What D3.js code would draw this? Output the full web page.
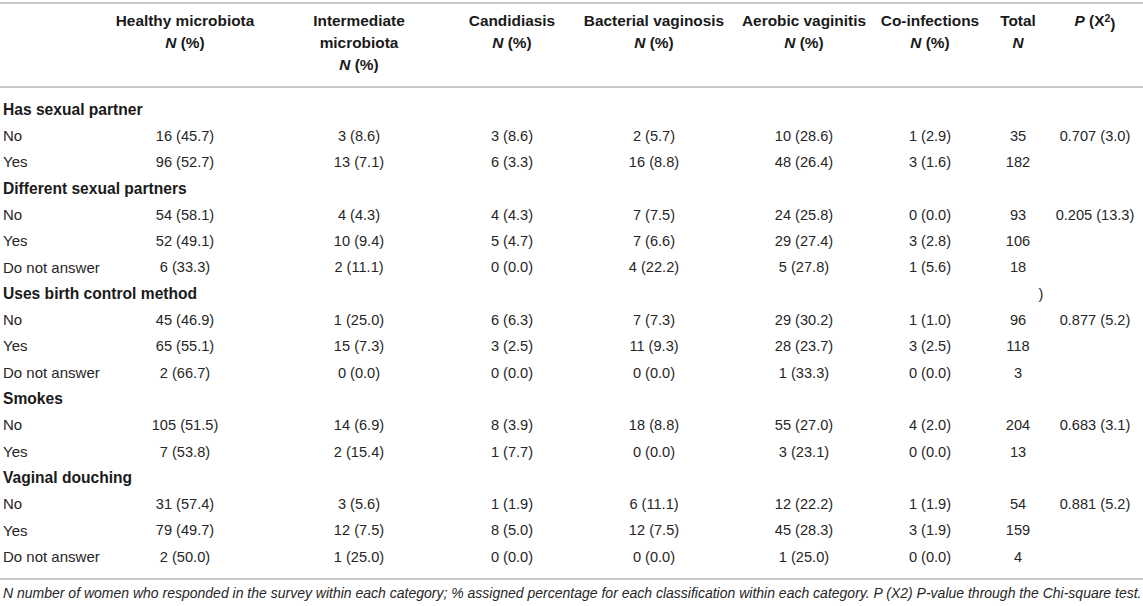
<!DOCTYPE html>
<html>
<head>
<meta charset="utf-8">
<script src="https://cdn.jsdelivr.net/npm/d3@7"></script>
<style>
  body { margin: 0; background: #fff; }
  text { font-family: "Liberation Sans", Arial, Helvetica, sans-serif; }
</style>
</head>
<body>
<div id="table"></div>
<script>
// Column headers (each entry = lines of the header cell)
const columns = ["healthy", "intermediate", "candidiasis", "bacterial", "aerobic", "coinf", "total", "p"];
const headerLines = [
    ["Healthy microbiota", "N (%)"],
    ["Intermediate", "microbiota", "N (%)"],
    ["Candidiasis", "N (%)"],
    ["Bacterial vaginosis", "N (%)"],
    ["Aerobic vaginitis", "N (%)"],
    ["Co-infections", "N (%)"],
    ["Total", "N"],
    ["P (X2)"]
];

// Variable groups and their answers
const groups = ["Has sexual partner", "Different sexual partners", "Uses birth control method", "Smokes", "Vaginal douching"];
const answers = [
    ["No", "Yes"],
    ["No", "Yes", "Do not answer"],
    ["No", "Yes", "Do not answer"],
    ["No", "Yes"],
    ["No", "Yes", "Do not answer"]
];

// Counts and percentages per classification, one entry per answer row (top to bottom)
const healthyN = [16, 96, 54, 52, 6, 45, 65, 2, 105, 7, 31, 79, 2];
const healthyPct = [45.7, 52.7, 58.1, 49.1, 33.3, 46.9, 55.1, 66.7, 51.5, 53.8, 57.4, 49.7, 50.0];
const intermediateN = [3, 13, 4, 10, 2, 1, 15, 0, 14, 2, 3, 12, 1];
const intermediatePct = [8.6, 7.1, 4.3, 9.4, 11.1, 25.0, 7.3, 0.0, 6.9, 15.4, 5.6, 7.5, 25.0];
const candidiasisN = [3, 6, 4, 5, 0, 6, 3, 0, 8, 1, 1, 8, 0];
const candidiasisPct = [8.6, 3.3, 4.3, 4.7, 0.0, 6.3, 2.5, 0.0, 3.9, 7.7, 1.9, 5.0, 0.0];
const bacterialN = [2, 16, 7, 7, 4, 7, 11, 0, 18, 0, 6, 12, 0];
const bacterialPct = [5.7, 8.8, 7.5, 6.6, 22.2, 7.3, 9.3, 0.0, 8.8, 0.0, 11.1, 7.5, 0.0];
const aerobicN = [10, 48, 24, 29, 5, 29, 28, 1, 55, 3, 12, 45, 1];
const aerobicPct = [28.6, 26.4, 25.8, 27.4, 27.8, 30.2, 23.7, 33.3, 27.0, 23.1, 22.2, 28.3, 25.0];
const coinfN = [1, 3, 0, 3, 1, 1, 3, 0, 4, 0, 1, 3, 0];
const coinfPct = [2.9, 1.6, 0.0, 2.8, 5.6, 1.0, 2.5, 0.0, 2.0, 0.0, 1.9, 1.9, 0.0];
const totalN = [35, 182, 93, 106, 18, 96, 118, 3, 204, 13, 54, 159, 4];

// Chi-square results per group: p-value and X2
const pValues = [0.707, 0.205, 0.877, 0.683, 0.881];
const chiSquare = [3.0, 13.3, 5.2, 3.1, 5.2];

const footnote = "N number of women who responded in the survey within each category; % assigned percentage for each classification within each category. P (X2) P-value through the Chi-square test.";

// ---- build the rows ----
const fmt = (n, p) => `${n} (${p.toFixed(1)})`;
const rows = [];
let k = 0;
groups.forEach((g, gi) => {
    rows.push({ type: "group", label: g, group: gi });
    answers[gi].forEach((a, ai) => {
        rows.push({
            type: "data",
            label: a,
            cells: {
                healthy: fmt(healthyN[k], healthyPct[k]),
                intermediate: fmt(intermediateN[k], intermediatePct[k]),
                candidiasis: fmt(candidiasisN[k], candidiasisPct[k]),
                bacterial: fmt(bacterialN[k], bacterialPct[k]),
                aerobic: fmt(aerobicN[k], aerobicPct[k]),
                coinf: fmt(coinfN[k], coinfPct[k]),
                total: String(totalN[k]),
                p: ai === 0 ? `${pValues[gi].toFixed(3)} (${chiSquare[gi].toFixed(1)})` : ""
            }
        });
        k++;
    });
});

const W = 1143, H = 606;
const svg = d3.select("#table").append("svg")
    .attr("width", W)
    .attr("height", H);

// column centres
const x = d3.scaleOrdinal()
    .domain(columns)
    .range([185, 359, 512, 654, 804, 930, 1018, 1095]);

// row centres
const y = d3.scaleLinear()
    .domain([0, rows.length - 1])
    .range([109.5, 556.6]);

const ink = "#262626";
const ruleColor = "#b4b4b4";
const rule = (yy) => svg.append("line")
    .attr("x1", 0).attr("x2", W)
    .attr("y1", yy).attr("y2", yy)
    .attr("stroke", ruleColor)
    .attr("stroke-width", 1.6);

rule(3);
rule(87);
rule(579);

// header cells
const head = svg.append("g").attr("class", "header");
columns.forEach((c, ci) => {
    headerLines[ci].forEach((line, li) => {
        const t = head.append("text")
            .attr("x", x(c))
            .attr("y", 21 + li * 22)
            .attr("dy", "0.35em")
            .attr("text-anchor", "middle")
            .style("font-size", "15.4px")
            .style("font-weight", "bold")
            .attr("fill", "#1a1a1a");
        if (line === "N (%)") {
            t.append("tspan").style("font-style", "italic").text("N");
            t.append("tspan").text(" (%)");
        } else if (line === "N") {
            t.append("tspan").style("font-style", "italic").text("N");
        } else if (line === "P (X2)") {
            t.append("tspan").style("font-style", "italic").text("P");
            t.append("tspan").text(" (X");
            t.append("tspan").attr("dy", "-0.45em").style("font-size", "10.5px").text("2");
            t.append("tspan").attr("dy", "0.45em").text(")");
        } else {
            t.text(line);
        }
    });
});

// body rows
const body = svg.append("g").attr("class", "body");
const rowG = body.selectAll("g.row")
    .data(rows)
    .enter()
    .append("g")
    .attr("class", "row")
    .attr("transform", (d, i) => `translate(0,${y(i)})`);

rowG.append("text")
    .attr("x", 3)
    .attr("dy", "0.35em")
    .style("font-size", (d) => d.type === "group" ? "15.6px" : "15px")
    .style("font-weight", (d) => d.type === "group" ? "bold" : "normal")
    .attr("fill", (d) => d.type === "group" ? "#1a1a1a" : ink)
    .text((d) => d.label);

rowG.filter((d) => d.type === "data")
    .selectAll("text.cell")
    .data((d) => columns.map((c) => ({ col: c, value: d.cells[c] })))
    .enter()
    .append("text")
    .attr("class", "cell")
    .attr("x", (d) => x(d.col))
    .attr("dy", "0.35em")
    .attr("text-anchor", "middle")
    .style("font-size", "14.6px")
    .attr("fill", ink)
    .text((d) => d.value);

// stray bracket left in the source table on the birth-control row
rowG.filter((d) => d.type === "group" && d.group === 2)
    .append("text")
    .attr("x", 1041)
    .attr("dy", "0.35em")
    .attr("text-anchor", "middle")
    .style("font-size", "14.6px")
    .attr("fill", ink)
    .text(")");

// footnote
svg.append("text")
    .attr("x", 3)
    .attr("y", 593)
    .attr("dy", "0.35em")
    .style("font-size", "14px")
    .style("font-style", "italic")
    .attr("fill", ink)
    .text(footnote);
</script>
</body>
</html>
